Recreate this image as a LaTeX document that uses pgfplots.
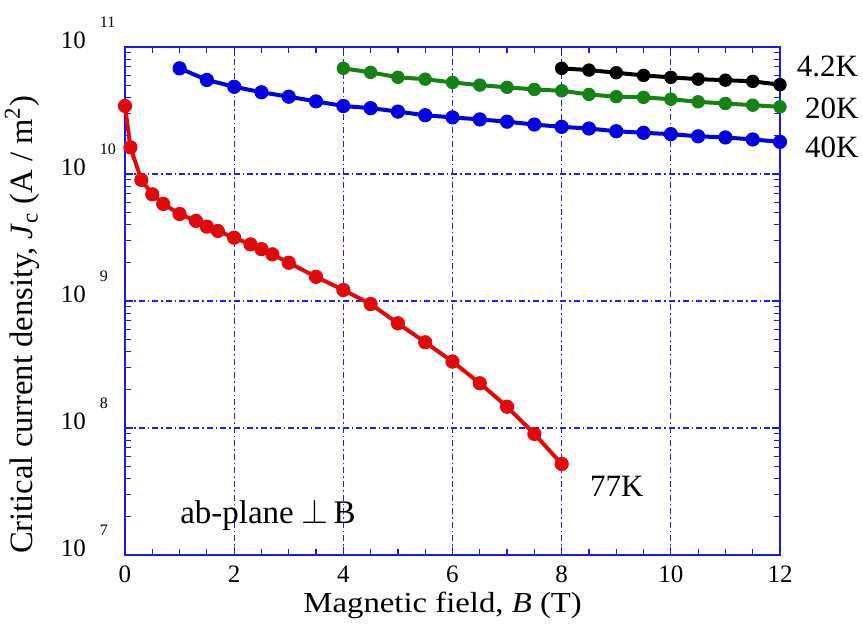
\documentclass[border=0pt]{standalone}
\usepackage{pgfplots}
\pgfplotsset{compat=1.18}
\usepackage{fontspec}
\setmainfont{Liberation Serif}
\definecolor{axblue}{RGB}{25,25,235}
\definecolor{gridblue}{RGB}{30,30,255}
\definecolor{cred}{RGB}{225,10,10}
\definecolor{cblue}{RGB}{0,0,225}
\definecolor{cgreen}{RGB}{20,130,20}
\newcommand{\tenexp}[1]{10\hspace{7pt}\makebox[8pt][l]{\raisebox{10.5pt}{\fontsize{8}{8}\selectfont #1}}}
\newcommand{\annot}{\fontsize{15.5}{18}\selectfont}
\begin{document}
\begin{tikzpicture}
\begin{axis}[
  scale only axis, width=327.5pt, height=254pt,
  xmin=0, xmax=12, ymin=1e7, ymax=1e11, ymode=log,
  xtick={0,2,...,12}, minor x tick num=3,
  ytick={1e7,1e8,1e9,1e10,1e11},
  yticklabels={\tenexp{7},\tenexp{8},\tenexp{9},\tenexp{10},\tenexp{11}},
  axis line style={axblue, line width=0.8pt},
  every tick/.style={axblue, line width=0.6pt},
  tick align=inside,
  major tick length=4pt, minor tick length=3pt,
  grid=major,
  major grid style={gridblue, line width=0.6pt, dash pattern=on 3pt off 1.5pt on 0.8pt off 1.5pt},
  clip=false,
  font=\fontsize{12.5}{15}\selectfont,
  /pgf/number format/assume math mode=true,
  yticklabel style={anchor=base east, yshift=-1pt, xshift=-1pt},
  xticklabel style={yshift=-2pt},
  xlabel={\scalebox{1.13}[1]{\fontsize{14.5}{17}\selectfont Magnetic field, \textit{B} (T)}},
  ylabel={\fontsize{16.3}{19}\selectfont Critical current density, \textit{J}\textsubscript{c} (A / m\textsuperscript{2})},
  xlabel style={at={(axis description cs:0.485,-0.1)}, anchor=center},
  ylabel style={at={(axis description cs:-0.157,0.453)}, anchor=center},
  every axis plot/.append style={line width=2pt, mark=*, mark size=3.3pt},
]
\addplot[cred, mark options={solid, fill=cred, line width=0.5pt}] coordinates {
(0,3.43e10) (0.1,1.62e10) (0.3,8.98e9) (0.5,6.92e9) (0.7,5.81e9) (1.0,4.84e9)
(1.3,4.27e9) (1.5,3.85e9) (1.7,3.56e9) (2.0,3.15e9) (2.3,2.79e9) (2.5,2.56e9)
(2.7,2.33e9) (3.0,2.00e9) (3.5,1.55e9) (4.0,1.22e9) (4.5,9.46e8) (5.0,6.67e8)
(5.5,4.73e8) (6.0,3.33e8) (6.5,2.25e8) (7.0,1.47e8) (7.5,8.98e7) (8.0,5.21e7)
};
\addplot[cblue, mark options={solid, fill=cblue, line width=0.5pt}] coordinates {
(1.0,6.79e10) (1.5,5.50e10) (2.0,4.86e10) (2.5,4.40e10) (3.0,4.06e10) (3.5,3.73e10)
(4.0,3.43e10) (4.5,3.30e10) (5.0,3.10e10) (5.5,2.90e10) (6.0,2.79e10) (6.5,2.69e10)
(7.0,2.58e10) (7.5,2.45e10) (8.0,2.35e10) (8.5,2.28e10) (9.0,2.17e10) (9.5,2.11e10)
(10,2.06e10) (10.5,1.98e10) (11,1.94e10) (11.5,1.87e10) (12,1.79e10)
};
\addplot[cgreen, mark size=3.1pt, mark options={solid, fill=cgreen, line width=0.5pt}] coordinates {
(4.0,6.79e10) (4.5,6.31e10) (5.0,5.77e10) (5.5,5.58e10) (6.0,5.26e10) (6.5,5.01e10)
(7.0,4.81e10) (7.5,4.63e10) (8.0,4.52e10) (8.5,4.23e10) (9.0,4.06e10) (9.5,4.01e10)
(10,3.88e10) (10.5,3.70e10) (11,3.59e10) (11.5,3.48e10) (12,3.38e10)
};
\addplot[black, mark size=3.1pt, mark options={solid, fill=black, line width=0.5pt}] coordinates {
(8.0,6.79e10) (8.5,6.58e10) (9.0,6.27e10) (9.5,5.97e10) (10,5.77e10)
(10.5,5.58e10) (11,5.48e10) (11.5,5.36e10) (12,5.05e10)
};
\node[font=\annot] at (axis cs:12.87,7.08e10) {4.2K};
\node[font=\annot] at (axis cs:12.95,3.31e10) {20K};
\node[font=\annot] at (axis cs:12.95,1.63e10) {40K};
\node[font=\annot] at (axis cs:9.01,3.49e7) {77K};
\node[font=\fontsize{16.5}{19}\selectfont] at (axis cs:2.62,2.07e7) {ab-plane\hspace{4pt}$\perp$\hspace{2.5pt}B};
\end{axis}
\pgfresetboundingbox
\path ([shift={(-62.5pt,-36.5pt)}]current axis.south west) rectangle ([shift={(41.5pt,23.5pt)}]current axis.north east);
\end{tikzpicture}
\end{document}
